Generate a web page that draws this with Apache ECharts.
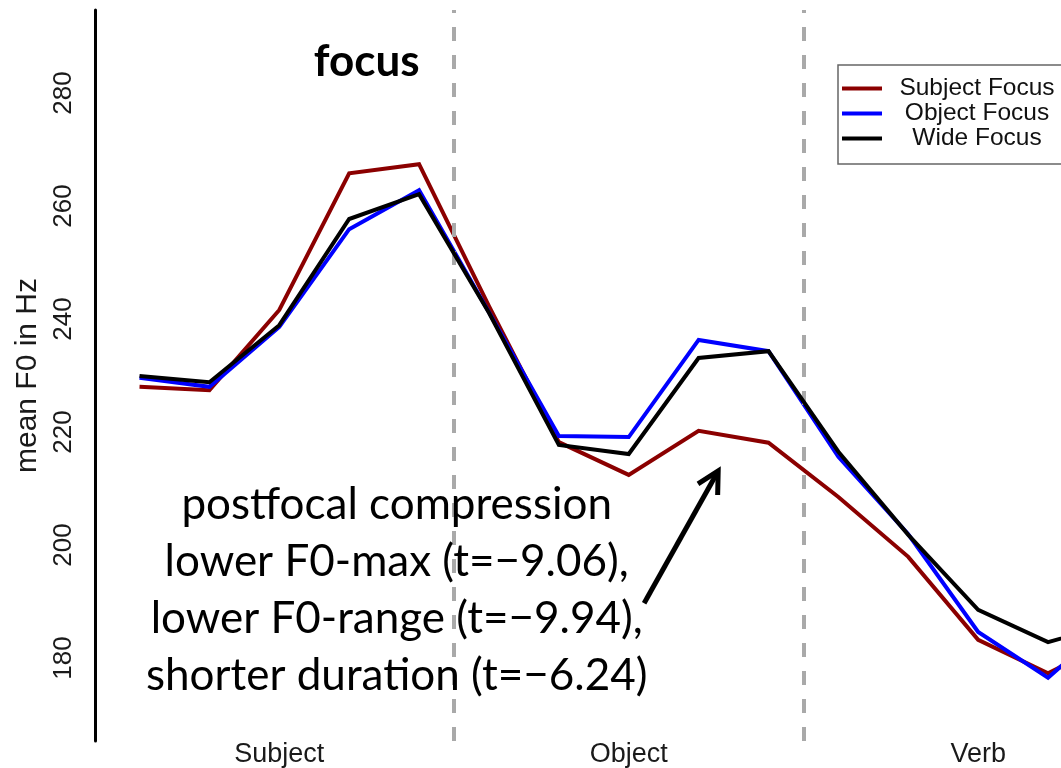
<!DOCTYPE html>
<html>
<head>
<meta charset="utf-8">
<script src="https://cdn.jsdelivr.net/npm/echarts@6/dist/echarts.min.js"></script>
<style>
  html, body { margin: 0; padding: 0; background: #fff; }
  #chart { width: 1061px; height: 768px; }
</style>
</head>
<body>
<div id="chart"></div>
<script>
// Word regions along the utterance and the syllable slot at the centre of each
const words = ['Subject', 'Object', 'Verb'];
const wordCenters = [2, 7, 12];
const wordBoundaries = [4.5, 9.5];

// Normalised time slots (syllable index)
const slots = [0, 1, 2, 3, 4, 5, 6, 7, 8, 9, 10, 11, 12, 13, 14];

// Mean F0 (Hz) per slot for each focus condition
const subjectFocus = [228.0, 227.4, 241.6, 265.8, 267.4, 242.3, 218.2, 212.4, 220.2, 218.1, 208.5, 197.9, 183.2, 177.3, 183.5];
const objectFocus  = [229.6, 228.0, 238.6, 255.9, 262.8, 241.2, 219.3, 219.1, 236.3, 234.3, 215.6, 201.9, 184.6, 176.5, 187.5];
const wideFocus    = [229.9, 228.8, 238.9, 257.7, 262.1, 241.1, 217.7, 216.1, 233.1, 234.3, 216.5, 201.8, 188.5, 182.8, 186.3];

const yTicks = [180, 200, 220, 240, 260, 280];

const seriesNames = ['Subject Focus', 'Object Focus', 'Wide Focus'];
const seriesColors = ['#8b0000', '#0000ff', '#000000'];
const seriesValues = [subjectFocus, objectFocus, wideFocus];

// Annotation anchors in data space (slot, Hz)
const focusLabelAt = [3.25, 285.6];
const noteAt = [3.68, 192.0];
const arrowFrom = [7.22, 189.7];
const arrowTo = [8.28, 213.1];
const noteLines = [
  'postfocal compression',
  'lower F0-max (t=\u22129.06),',
  'lower F0-range (t=\u22129.94),',
  'shorter duration (t=\u22126.24)'
];

const chart = echarts.init(document.getElementById('chart'), null, { renderer: 'canvas' });

const series = seriesNames.map((name, k) => ({
  name: name,
  type: 'line',
  data: slots.map((s, i) => [s, seriesValues[k][i]]),
  symbol: 'none',
  smooth: false,
  z: 3 + k,
  lineStyle: { color: seriesColors[k], width: 4, join: 'miter' },
  itemStyle: { color: seriesColors[k] }
}));

// Dashed word boundaries
series[0].markLine = {
  silent: true,
  symbol: 'none',
  label: { show: false },
  lineStyle: { color: '#a9a9a9', width: 4, type: [14, 14] },
  data: wordBoundaries.map(b => ({ xAxis: b }))
};

chart.setOption({
  animation: false,
  backgroundColor: '#ffffff',
  textStyle: { fontFamily: 'Liberation Sans, Arial, sans-serif' },
  grid: { left: 95, top: 10, width: 1046, height: 731, containLabel: false, outerBoundsMode: 'none' },
  xAxis: {
    type: 'value',
    min: -0.637,
    max: 14.33,
    axisLine: { show: false, onZero: false },
    axisTick: { show: false },
    splitLine: { show: false },
    axisLabel: {
      customValues: wordCenters,
      formatter: v => words[wordCenters.indexOf(v)],
      fontSize: 27,
      color: '#1a1a1a',
      margin: 0
    }
  },
  yAxis: {
    type: 'value',
    min: 165.3,
    max: 294.7,
    name: 'mean F0 in Hz',
    nameLocation: 'middle',
    nameRotate: 90,
    nameGap: 52,
    nameTextStyle: { fontSize: 30, color: '#1a1a1a' },
    axisLine: { show: true, onZero: false, lineStyle: { color: '#000', width: 3 } },
    axisTick: { show: false },
    splitLine: { show: false },
    axisLabel: {
      customValues: yTicks,
      rotate: 90,
      fontSize: 26,
      color: '#1a1a1a',
      margin: 18
    }
  },
  legend: {
    data: seriesNames,
    orient: 'vertical',
    left: 838,
    top: 65,
    icon: 'rect',
    itemWidth: 40,
    itemHeight: 4,
    itemGap: 0,
    padding: [11, 40, 13, 4],
    borderColor: '#666666',
    borderWidth: 1.5,
    backgroundColor: '#ffffff',
    formatter: name => '{t|' + name + '}',
    textStyle: {
      rich: {
        t: { width: 180, align: 'center', fontSize: 24.5, lineHeight: 24, color: '#111', fontFamily: 'Liberation Sans, Arial, sans-serif' }
      }
    }
  },
  series: series
});

// Annotations placed through the axes' own scales
function px(p) { return chart.convertToPixel({ gridIndex: 0 }, p); }

const focusPos = px(focusLabelAt);
const notePos = px(noteAt);
const tail = px(arrowFrom);
const tip = px(arrowTo);

const dx = tail[0] - tip[0], dy = tail[1] - tip[1];
const len = Math.sqrt(dx * dx + dy * dy);
const ux = dx / len, uy = dy / len;
const headLen = 24, headAng = 28 * Math.PI / 180;
function rot(x, y, a) { return [x * Math.cos(a) - y * Math.sin(a), x * Math.sin(a) + y * Math.cos(a)]; }
const w1 = rot(ux, uy, headAng), w2 = rot(ux, uy, -headAng);

chart.setOption({
  graphic: [
    {
      type: 'text',
      x: focusPos[0], y: focusPos[1],
      z: 10,
      style: {
        text: 'focus',
        font: 'bold 44px Lato, Carlito, sans-serif',
        fill: '#000',
        align: 'center',
        verticalAlign: 'middle'
      }
    },
    {
      type: 'text',
      x: notePos[0], y: notePos[1],
      z: 10,
      style: {
        text: noteLines.join('\n'),
        font: '44px Lato, Carlito, sans-serif',
        lineHeight: 57,
        fill: '#000',
        align: 'center',
        verticalAlign: 'middle'
      }
    },
    {
      type: 'line',
      z: 10,
      shape: { x1: tail[0], y1: tail[1], x2: tip[0] + ux * 2, y2: tip[1] + uy * 2 },
      style: { stroke: '#000', lineWidth: 5 }
    },
    {
      type: 'polyline',
      z: 10,
      shape: { points: [
        [tip[0] + w1[0] * headLen, tip[1] + w1[1] * headLen],
        [tip[0], tip[1]],
        [tip[0] + w2[0] * headLen, tip[1] + w2[1] * headLen]
      ] },
      style: { stroke: '#000', lineWidth: 5, fill: null, lineJoin: 'miter' }
    }
  ]
});
</script>
</body>
</html>
